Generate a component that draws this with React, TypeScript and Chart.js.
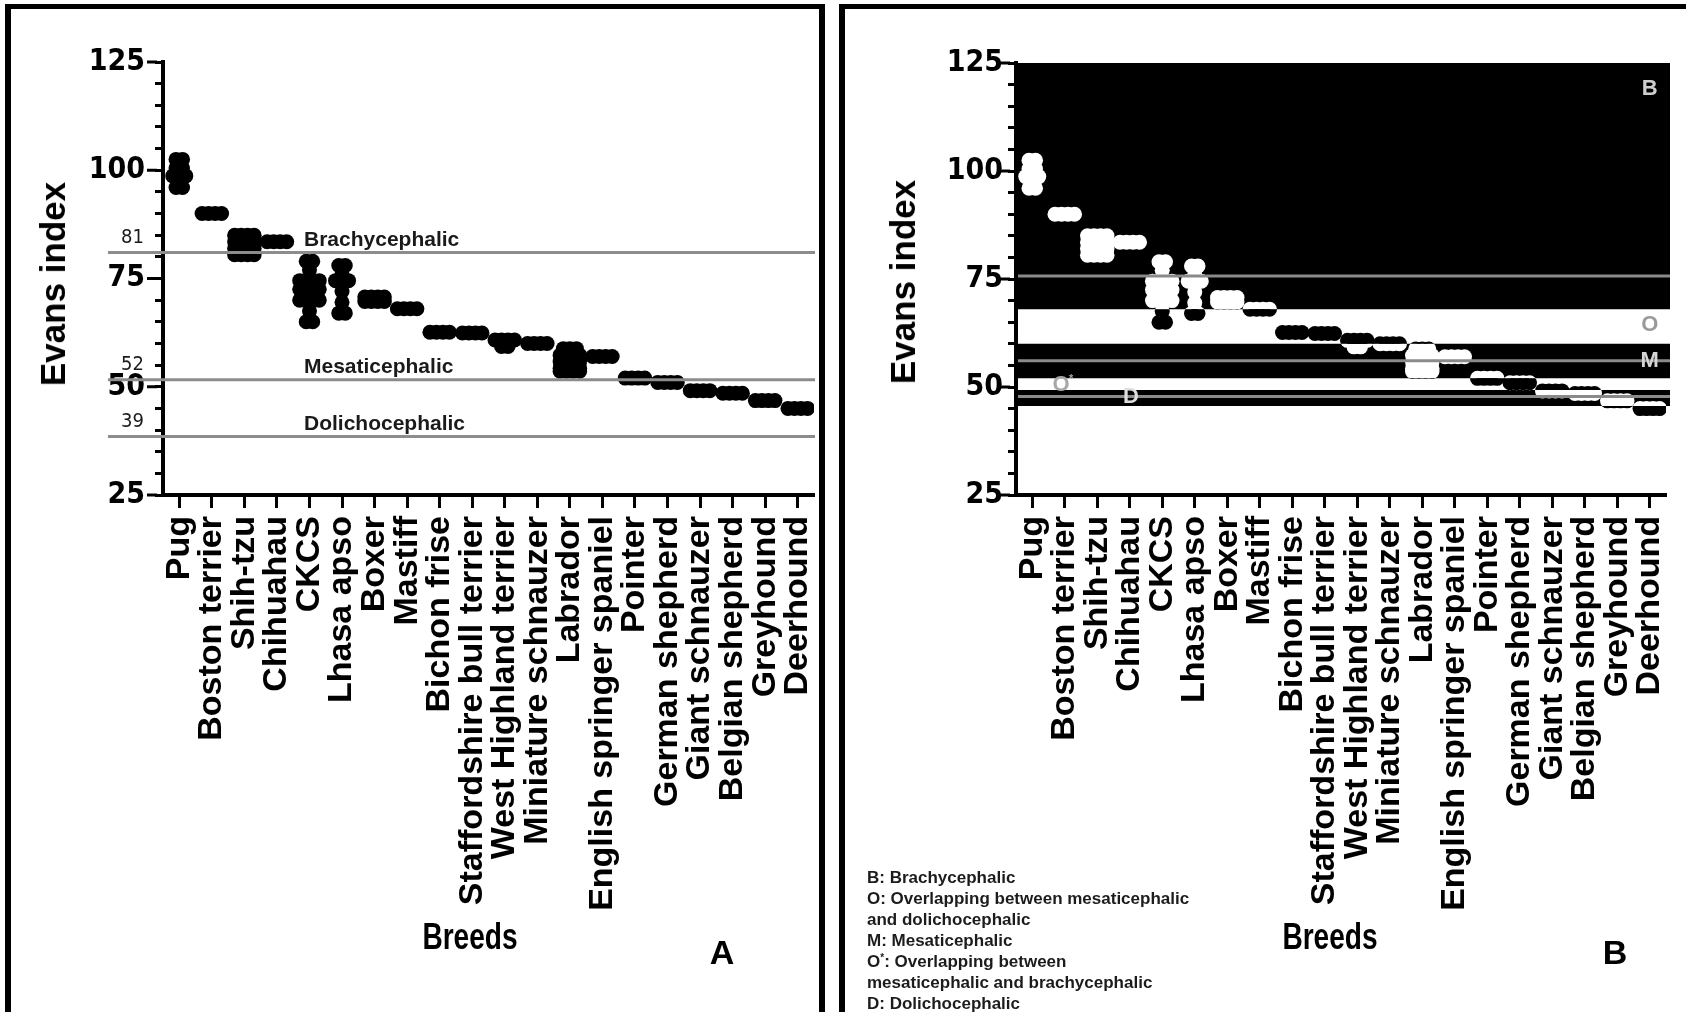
import React, { useEffect, useRef } from 'react';
import { Chart, registerables } from 'chart.js';

Chart.register(...registerables);

const FONT = "'Liberation Sans', Arial, Helvetica, sans-serif";
const NARROW = "'Liberation Sans Narrow', 'Arial Narrow', 'DejaVu Sans Condensed', sans-serif";

// ---------- data ----------
const breeds = [
  'Pug', 'Boston terrier', 'Shih-tzu', 'Chihuahau', 'CKCS', 'Lhasa apso', 'Boxer', 'Mastiff',
  'Bichon frise', 'Staffordshire bull terrier', 'West Highland terrier', 'Miniature schnauzer',
  'Labrador', 'English springer spaniel', 'Pointer', 'German shepherd', 'Giant schnauzer',
  'Belgian shepherd', 'Greyhound', 'Deerhound',
];

const pug = [102.5, 102.5, 100.5, 100.5, 98.7, 98.7, 98.7, 96, 96];
const bostonTerrier = [90, 90, 90, 90];
const shihTzu = [85, 85, 85, 85, 83.5, 83.5, 83.5, 83.5, 82, 82, 82, 82, 80.5, 80.5, 80.5, 80.5];
const chihuahau = [83.5, 83.5, 83.5, 83.5];
const ckcs = [79, 79, 77, 74.5, 74.5, 74.5, 74.5, 72.5, 72.5, 72.5, 72.5, 70, 70, 70, 70, 67.5, 65, 65];
const lhasaApso = [78, 78, 76, 74.5, 74.5, 74.5, 72, 69.5, 67, 67];
const boxer = [70.7, 70.7, 70.7, 70.7, 69.7, 69.7, 69.7, 69.7];
const mastiff = [68, 68, 68, 68];
const bichonFrise = [62.6, 62.6, 62.6, 62.6];
const staffordshire = [62.4, 62.4, 62.4, 62.4];
const westHighland = [60.8, 60.8, 60.8, 60.8, 59.3, 59.3];
const miniSchnauzer = [60, 60, 60, 60];
const labrador = [58.8, 58.8, 58.8, 57.3, 57.3, 57.3, 57.3, 55.8, 55.8, 55.8, 55.8, 54.3, 54.3, 54.3, 54.3, 53.6, 53.6, 53.6, 53.6];
const springerSpaniel = [57, 57, 57, 57];
const pointer = [52, 52, 52, 52];
const germanShepherd = [51, 51, 51, 51];
const giantSchnauzer = [49.1, 49.1, 49.1, 49.1];
const belgianShepherd = [48.5, 48.5, 48.5, 48.5];
const greyhound = [46.8, 46.8, 46.8, 46.8];
const deerhound = [45, 45, 45, 45];

const evansValues = [
  pug, bostonTerrier, shihTzu, chihuahau, ckcs, lhasaApso, boxer, mastiff, bichonFrise,
  staffordshire, westHighland, miniSchnauzer, labrador, springerSpaniel, pointer,
  germanShepherd, giantSchnauzer, belgianShepherd, greyhound, deerhound,
];

const yMajorTicks = [25, 50, 75, 100, 125];

// panel A reference lines
const panelALines = [81, 51.6, 38.5];
const panelALineNames = ['Brachycephalic', 'Mesaticephalic', 'Dolichocephalic'];
const panelALineLabels = ['81', '52', '39'];

// panel B zones
const bandUpper = [125, 60, 49.3];
const bandLower = [68, 52, 45.6];
const panelBLines = [75.7, 56.1, 47.8];
const zoneLetters = ['B', 'O', 'M', 'O*', 'D'];
const zoneLetterX = [19, 19, 19, 0.89, 3.04];
const zoneLetterY = [119.1, 64.4, 56.1, 50.5, 47.6];
const zoneLetterColors = ['#cfcfcf', '#9a9a9a', '#d6d6d6', '#a8a8a8', '#dedede'];

const legendLines = [
  'B: Brachycephalic',
  'O: Overlapping between mesaticephalic',
  'and dolichocephalic',
  'M: Mesaticephalic',
  'O*: Overlapping between',
  'mesaticephalic and brachycephalic',
  'D: Dolichocephalic',
];

// ---------- helpers ----------
const SPREAD = 0.2;
function buildPoints() {
  const pts: { x: number; y: number }[] = [];
  evansValues.forEach((vals, i) => {
    const counts = new Map<number, number>();
    vals.forEach((v) => counts.set(v, (counts.get(v) || 0) + 1));
    counts.forEach((n, v) => {
      for (let k = 0; k < n; k++) pts.push({ x: i + (k - (n - 1) / 2) * SPREAD, y: v });
    });
  });
  return pts;
}

function drawMajorTicks(chart: any) {
  const { ctx, chartArea: ca, scales } = chart;
  ctx.save();
  ctx.strokeStyle = '#000';
  ctx.lineWidth = 3;
  yMajorTicks.forEach((v) => {
    const py = scales.y.getPixelForValue(v);
    ctx.beginPath();
    ctx.moveTo(ca.left - 16, py);
    ctx.lineTo(ca.left - 6, py);
    ctx.stroke();
  });
  ctx.restore();
}

function makeScales(yWidth: number, yPad: number) {
  const yTickList: { value: number }[] = [];
  for (let v = 25; v <= 125; v += 5) yTickList.push({ value: v });
  return {
    x: {
      type: 'linear',
      min: -0.5,
      max: 19.5,
      afterBuildTicks: (s: any) => {
        s.ticks = breeds.map((_, i) => ({ value: i }));
      },
      afterFit: (s: any) => {
        s.height = 420;
      },
      ticks: {
        autoSkip: false,
        maxRotation: 90,
        minRotation: 90,
        padding: 8,
        color: '#000',
        font: { family: FONT, size: 34, weight: 'bold' },
        callback: (v: any) => breeds[Math.round(Number(v))] ?? '',
      },
      grid: {
        display: true,
        drawOnChartArea: false,
        drawTicks: true,
        tickLength: 13,
        tickWidth: 3,
        tickColor: '#000',
      },
      border: { display: true, color: '#000', width: 4 },
    },
    y: {
      type: 'linear',
      min: 25,
      max: 125,
      afterBuildTicks: (s: any) => {
        s.ticks = yTickList.map((t) => ({ ...t }));
      },
      afterFit: (s: any) => {
        s.width = yWidth;
      },
      ticks: {
        autoSkip: false,
        padding: yPad,
        color: '#000',
        font: { family: NARROW, size: 30, weight: 'bold' },
        callback: (v: any) => (Number(v) % 25 === 0 ? String(v) : ''),
      },
      grid: {
        display: true,
        drawOnChartArea: false,
        drawTicks: true,
        tickLength: 8,
        tickWidth: 3,
        tickColor: '#000',
      },
      border: { display: true, color: '#000', width: 4 },
    },
  };
}

const panelAPlugin = {
  id: 'panelA',
  afterDatasetsDraw(chart: any) {
    const { ctx, chartArea: ca, scales } = chart;
    ctx.save();
    panelALines.forEach((v, i) => {
      const py = scales.y.getPixelForValue(v);
      ctx.strokeStyle = '#8c8c8c';
      ctx.lineWidth = 3;
      ctx.beginPath();
      ctx.moveTo(ca.left - 55, py);
      ctx.lineTo(ca.right + 1, py);
      ctx.stroke();
      ctx.fillStyle = '#1a1a1a';
      ctx.textBaseline = 'alphabetic';
      ctx.font = `bold 21px ${FONT}`;
      ctx.textAlign = 'left';
      ctx.fillText(panelALineNames[i], ca.left + 141, py - 6.5);
      ctx.font = `20px ${NARROW}`;
      ctx.textAlign = 'right';
      ctx.fillText(panelALineLabels[i], ca.left - 19, py - 9.5);
    });
    ctx.restore();
  },
  afterDraw(chart: any) {
    drawMajorTicks(chart);
  },
};

function bandRects(chart: any, ctx: CanvasRenderingContext2D) {
  const { chartArea: ca, scales } = chart;
  bandUpper.forEach((u, i) => {
    const t = scales.y.getPixelForValue(u);
    const b = scales.y.getPixelForValue(bandLower[i]);
    ctx.rect(ca.left, t, ca.right + 4 - ca.left, b - t);
  });
}

const panelBPlugin = {
  id: 'panelB',
  beforeDraw(chart: any) {
    const { ctx, chartArea: ca } = chart;
    ctx.save();
    ctx.fillStyle = '#fff';
    ctx.fillRect(ca.left - 10, ca.top - 10, ca.width + 20, ca.height + 20);
    ctx.fillStyle = '#000';
    ctx.beginPath();
    bandRects(chart, ctx);
    ctx.fill();
    ctx.restore();
  },
  beforeDatasetDraw(chart: any, args: any) {
    const { ctx, chartArea: ca } = chart;
    ctx.save();
    ctx.beginPath();
    if (args.index === 0) ctx.rect(ca.left - 30, ca.top - 30, ca.width + 60, ca.height + 60);
    bandRects(chart, ctx);
    ctx.clip('evenodd');
  },
  afterDatasetDraw(chart: any) {
    chart.ctx.restore();
  },
  afterDatasetsDraw(chart: any) {
    const { ctx, chartArea: ca, scales } = chart;
    ctx.save();
    ctx.strokeStyle = '#8a8a8a';
    ctx.lineWidth = 3;
    panelBLines.forEach((v) => {
      const py = scales.y.getPixelForValue(v);
      ctx.beginPath();
      ctx.moveTo(ca.left + 2, py);
      ctx.lineTo(ca.right + 4, py);
      ctx.stroke();
    });
    ctx.textAlign = 'center';
    ctx.textBaseline = 'middle';
    zoneLetters.forEach((t, i) => {
      const px = scales.x.getPixelForValue(zoneLetterX[i]);
      const py = scales.y.getPixelForValue(zoneLetterY[i]);
      ctx.fillStyle = zoneLetterColors[i];
      ctx.font = `bold 22px ${FONT}`;
      if (t === 'O*') {
        ctx.fillText('O', px, py);
        ctx.font = `bold 11px ${FONT}`;
        ctx.fillText('*', px + 10, py - 6);
      } else {
        ctx.fillText(t, px, py);
      }
    });
    ctx.restore();
  },
  afterDraw(chart: any) {
    drawMajorTicks(chart);
  },
};

const CANVAS_W = 860;

function makeConfig(panel: 'A' | 'B'): any {
  const pts = buildPoints();
  const isB = panel === 'B';
  const datasets = isB
    ? [
        { data: pts, pointRadius: 7.5, pointBackgroundColor: '#000', pointBorderWidth: 0, showLine: false },
        { data: pts, pointRadius: 7.5, pointBackgroundColor: '#fff', pointBorderWidth: 0, showLine: false },
      ]
    : [{ data: pts, pointRadius: 7.5, pointBackgroundColor: '#000', pointBorderWidth: 0, showLine: false }];
  return {
    type: 'scatter',
    data: { datasets },
    options: {
      responsive: false,
      animation: false,
      events: [],
      layout: {
        padding: isB
          ? { left: 10, top: 63, right: CANVAS_W - 820, bottom: 1012 - 495 - 420 }
          : { left: 13, top: 62, right: CANVAS_W - 814, bottom: 1012 - 495 - 420 },
      },
      plugins: { legend: { display: false }, tooltip: { enabled: false }, title: { display: false } },
      scales: isB ? makeScales(160, 5) : makeScales(150, 10),
    },
    plugins: [isB ? panelBPlugin : panelAPlugin],
  };
}

const textBase: React.CSSProperties = {
  position: 'absolute',
  fontFamily: FONT,
  color: '#000',
  whiteSpace: 'nowrap',
};

export default function App() {
  const refA = useRef<HTMLCanvasElement>(null);
  const refB = useRef<HTMLCanvasElement>(null);

  useEffect(() => {
    const a = new Chart(refA.current as HTMLCanvasElement, makeConfig('A'));
    const b = new Chart(refB.current as HTMLCanvasElement, makeConfig('B'));
    return () => {
      a.destroy();
      b.destroy();
    };
  }, []);

  const yTitle = (left: number, top: number) => (
    <div
      style={{
        ...textBase,
        left,
        top,
        fontSize: 35,
        fontWeight: 'bold',
        transform: 'translate(-50%, -50%) rotate(-90deg)',
      }}
    >
      Evans index
    </div>
  );
  const xTitle = (left: number) => (
    <div
      style={{
        ...textBase,
        left,
        top: 919,
        fontSize: 36,
        lineHeight: '36px',
        fontWeight: 'bold',
        transform: 'translateX(-50%) scaleX(0.78)',
      }}
    >
      Breeds
    </div>
  );
  const panelLetter = (left: number, t: string) => (
    <div
      style={{
        ...textBase,
        left,
        top: 935,
        fontSize: 34,
        lineHeight: '34px',
        fontWeight: 'bold',
        transform: 'translateX(-50%)',
      }}
    >
      {t}
    </div>
  );

  return (
    <div
      style={{
        position: 'fixed',
        left: 0,
        top: 0,
        width: 1686,
        height: 1012,
        background: '#fff',
        overflow: 'hidden',
      }}
    >
      {/* panel frames */}
      <div
        style={{
          position: 'absolute',
          left: 5,
          top: 4,
          width: 820,
          height: 1100,
          boxSizing: 'border-box',
          borderTop: '5px solid #000',
          borderLeft: '6px solid #000',
          borderRight: '6px solid #000',
        }}
      />
      <div
        style={{
          position: 'absolute',
          left: 839,
          top: 4,
          width: 900,
          height: 1100,
          boxSizing: 'border-box',
          borderTop: '5px solid #000',
          borderLeft: '6px solid #000',
        }}
      />

      <canvas ref={refA} width={CANVAS_W} height={1012} style={{ position: 'absolute', left: 0, top: 0 }} />
      <canvas ref={refB} width={CANVAS_W} height={1012} style={{ position: 'absolute', left: 846, top: 0 }} />

      {yTitle(53, 284)}
      {yTitle(903, 282)}
      {xTitle(470)}
      {xTitle(1330)}
      {panelLetter(722, 'A')}
      {panelLetter(1615, 'B')}

      {/* legend of panel B */}
      {legendLines.map((line, i) => (
        <div
          key={i}
          style={{
            ...textBase,
            left: 867,
            top: 867 + i * 21,
            fontSize: 17,
            lineHeight: '21px',
            fontWeight: 'bold',
            color: '#1c1c1c',
          }}
        >
          {line.startsWith('O*') ? (
            <>
              O<span style={{ fontSize: 10, position: 'relative', top: -6 }}>*</span>
              {line.slice(2)}
            </>
          ) : (
            line
          )}
        </div>
      ))}
    </div>
  );
}
